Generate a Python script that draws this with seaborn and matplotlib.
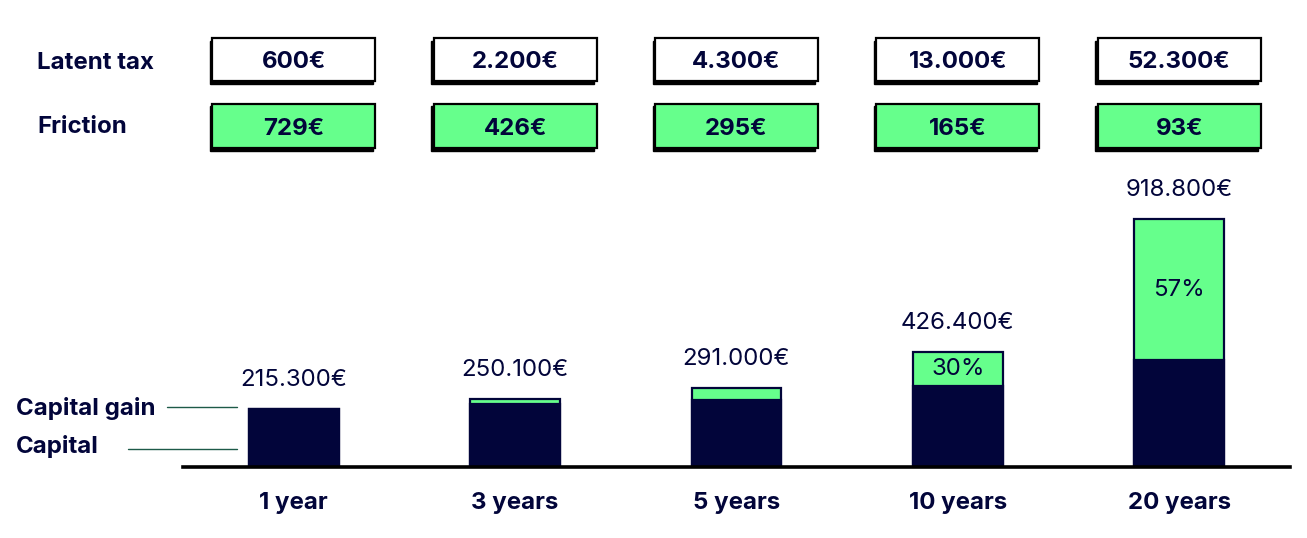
import numpy as np
import pandas as pd
import matplotlib
matplotlib.use("Agg")
import matplotlib.pyplot as plt
import matplotlib.transforms as mtransforms
from matplotlib.patches import Rectangle
import seaborn as sns

# data
horizons = ["1 year", "3 years", "5 years", "10 years", "20 years"]
total_value = [215300, 250100, 291000, 426400, 918800]
capital = [215300, 232500, 250000, 298500, 395100]
total_labels = ["215.300€", "250.100€", "291.000€", "426.400€", "918.800€"]
gain_labels = ["", "", "", "30%", "57%"]
latent_tax = ["600€", "2.200€", "4.300€", "13.000€", "52.300€"]
friction = ["729€", "426€", "295€", "165€", "93€"]

NAVY = "#02053a"
GREEN = "#66ff8c"
LINE = "#1d5a48"
FS = 17.3

sns.set_theme(style="white")
plt.rcParams["font.family"] = ["Inter", "DejaVu Sans"]

W, H = 1307, 538
fig = plt.figure(figsize=(W / 100, H / 100), dpi=100)
ax = fig.add_axes([183 / W, (H - 467) / H, 1107 / W, (467 - 160) / H])

df = pd.DataFrame({"horizon": horizons, "total": total_value, "capital": capital})

sns.barplot(data=df, x="horizon", y="total", order=horizons, color=GREEN,
            saturation=1, width=0.406, edgecolor=NAVY, linewidth=1.6, ax=ax)
sns.barplot(data=df, x="horizon", y="capital", order=horizons, color=NAVY,
            saturation=1, width=0.406, edgecolor=NAVY, linewidth=1.6, ax=ax)

ax.set_xlim(-0.5, 4.5)
ax.set_ylim(0, (467 - 160) / 0.27 * 1000)
ax.set_xlabel("")
ax.set_ylabel("")
ax.set_xticks([])
ax.set_yticks([])
for s in ["top", "left", "right"]:
    ax.spines[s].set_visible(False)
ax.spines["bottom"].set_color("black")
ax.spines["bottom"].set_linewidth(2.6)

# pixel (from top) -> figure fraction
def py(p):
    return 1 - p / H

blend = mtransforms.blended_transform_factory(ax.transData, fig.transFigure)

for i, h in enumerate(horizons):
    ax.annotate(total_labels[i], (i, total_value[i]), xytext=(0, 13),
                textcoords="offset points", ha="center", va="bottom",
                fontsize=FS, color=NAVY, annotation_clip=False)
    if gain_labels[i]:
        mid = (total_value[i] + capital[i]) / 2
        ax.text(i, mid, gain_labels[i], ha="center", va="center",
                fontsize=FS, color=NAVY)
    fig.text(i, py(503), h, transform=blend, ha="center", va="center",
             fontsize=FS, fontweight="bold", color=NAVY)

# boxes with latent tax and friction
box_w = 0.736
dx = 2.5 / 221.5
dy = 2.5 / H
rows = [(latent_tax, 38, 81, "white"), (friction, 104, 148, GREEN)]
for vals, top, bottom, fc in rows:
    for i, v in enumerate(vals):
        x0 = i - box_w / 2
        y0 = py(bottom)
        hh = (bottom - top) / H
        fig.patches.append(Rectangle((x0 - dx, y0 - dy), box_w, hh, transform=blend,
                                     facecolor="black", edgecolor="black", lw=1))
        fig.patches.append(Rectangle((x0, y0), box_w, hh, transform=blend,
                                     facecolor=fc, edgecolor="black", lw=1.6))
        fig.text(i, py((top + bottom) / 2 + 3), v, transform=blend, ha="center",
                 va="center", fontsize=FS, fontweight="bold", color=NAVY)

fig.text(37 / W, py(63), "Latent tax", ha="left", va="center", fontsize=FS,
         fontweight="bold", color=NAVY)
fig.text(37 / W, py(127), "Friction", ha="left", va="center", fontsize=FS,
         fontweight="bold", color=NAVY)

# legend-like labels on the left
fig.text(16 / W, py(409), "Capital gain", ha="left", va="center", fontsize=FS,
         fontweight="bold", color=NAVY)
fig.text(16 / W, py(446), "Capital", ha="left", va="center", fontsize=FS,
         fontweight="bold", color=NAVY)
fig.add_artist(plt.Line2D([167 / W, 237 / W], [py(407), py(407)], color=LINE, lw=1))
fig.add_artist(plt.Line2D([128 / W, 237 / W], [py(449), py(449)], color=LINE, lw=1))

fig.savefig("out.png", dpi=100, facecolor="white")
